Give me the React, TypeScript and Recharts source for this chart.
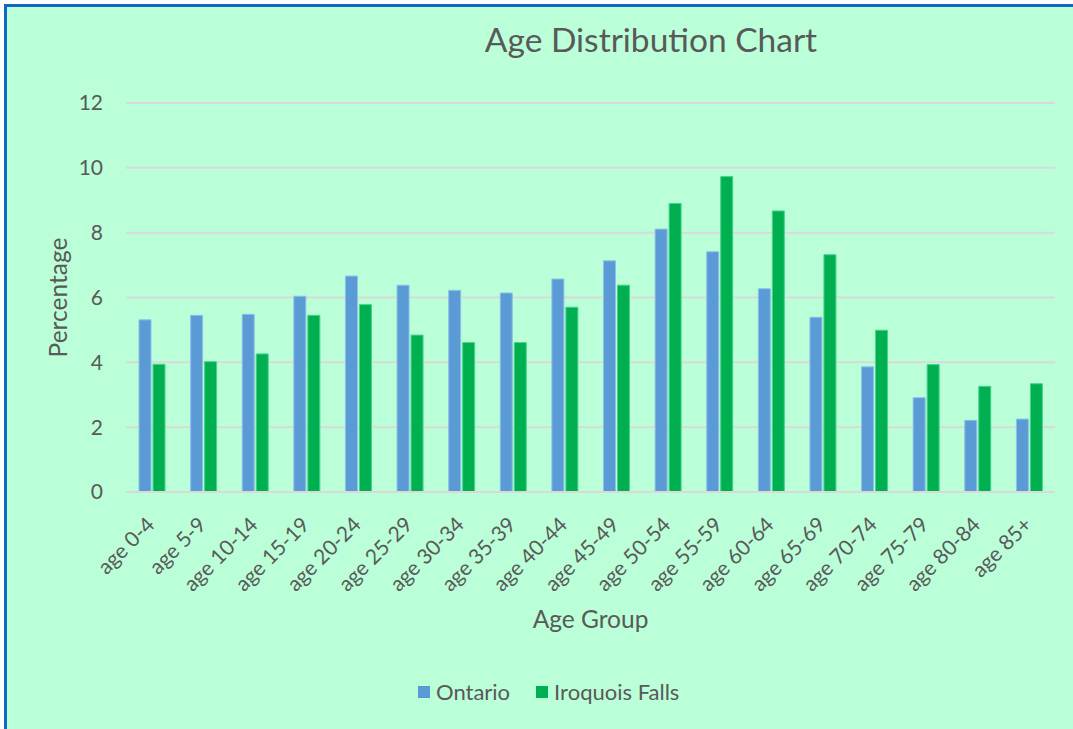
import React from 'react';
import { BarChart, Bar, XAxis, YAxis, CartesianGrid, Legend } from 'recharts';

const categories = ['age 0-4', 'age 5-9', 'age 10-14', 'age 15-19', 'age 20-24', 'age 25-29', 'age 30-34', 'age 35-39', 'age 40-44', 'age 45-49', 'age 50-54', 'age 55-59', 'age 60-64', 'age 65-69', 'age 70-74', 'age 75-79', 'age 80-84', 'age 85+'];
const ontario = [5.31, 5.45, 5.48, 6.04, 6.66, 6.38, 6.22, 6.14, 6.57, 7.13, 8.11, 7.41, 6.27, 5.39, 3.86, 2.91, 2.21, 2.25];
const iroquoisFalls = [3.94, 4.02, 4.26, 5.45, 5.78, 4.84, 4.61, 4.61, 5.70, 6.38, 8.90, 9.73, 8.67, 7.32, 4.99, 3.93, 3.26, 3.34];
const yTicks = [0, 2, 4, 6, 8, 10, 12];

const data = categories.map((c, i) => ({ name: c, ontario: ontario[i], iroquois: iroquoisFalls[i] }));

const FONT = 'Lato, "Open Sans", sans-serif';
const TEXT = '#595959';
const BLUE = '#5B9BD5';
const GREEN = '#00B050';
const GRID = '#D9D9D9';

const XTick = (props: any) => {
  const { x, y, payload } = props;
  const ax = x + 4;
  const ay = y + 34;
  return (
    <text x={ax} y={ay} transform={`rotate(-45, ${ax}, ${ay})`} textAnchor="end" fill={TEXT} fontSize={21} fontFamily={FONT}>
      {payload.value}
    </text>
  );
};

const LegendContent = () => (
  <div style={{ display: 'flex', alignItems: 'center', fontFamily: FONT, fontSize: 22, color: TEXT, lineHeight: '26px', whiteSpace: 'nowrap' }}>
    <span style={{ width: 12, height: 12, background: BLUE, display: 'inline-block', marginRight: 6 }} />
    <span>Ontario</span>
    <span style={{ width: 12, height: 12, background: GREEN, display: 'inline-block', marginLeft: 26, marginRight: 6 }} />
    <span>Iroquois Falls</span>
  </div>
);

export default function App() {
  return (
    <div style={{ position: 'fixed', left: 0, top: 0, width: 1073, height: 729, overflow: 'hidden', background: '#ffffff' }}>
      <div style={{ position: 'absolute', left: 4, top: 4, width: 1080, height: 740, border: '3px solid #1168C0', background: '#BAFFD8' }}>
        <svg width={1070} height={80} style={{ position: 'absolute', left: 0, top: 0 }}>
          <text x={644} y={45} textAnchor="middle" fill={TEXT} fontSize={33.5} fontFamily={FONT}>Age Distribution Chart</text>
        </svg>
        <div style={{ position: 'absolute', left: 0, top: 0 }}>
          <BarChart width={1070} height={730} data={data} margin={{ top: 96, right: 22, bottom: 95, left: 0 }} barSize={12} barGap={2}>
            <CartesianGrid vertical={false} stroke={GRID} strokeWidth={2} />
            <XAxis
              dataKey="name"
              height={150}
              interval={0}
              tickLine={false}
              tickSize={0}
              tickMargin={0}
              axisLine={{ stroke: GRID, strokeWidth: 2 }}
              tick={<XTick />}
              label={{
                content: (p: any) => {
                  const vb = p.viewBox;
                  return (
                    <text x={vb.x + vb.width / 2} y={vb.y + 136} textAnchor="middle" fill={TEXT} fontSize={24.5} fontFamily={FONT}>Age Group</text>
                  );
                },
              }}
            />
            <YAxis
              width={119}
              domain={[0, 12]}
              ticks={yTicks}
              axisLine={false}
              tickLine={false}
              tickSize={0}
              tickMargin={23}
              tick={{ fill: TEXT, fontSize: 21, fontFamily: FONT }}
              label={{
                content: (p: any) => {
                  const vb = p.viewBox;
                  const cx = vb.x + 50;
                  const cy = vb.y + vb.height / 2;
                  return (
                    <text x={cx} y={cy} transform={`rotate(-90, ${cx}, ${cy})`} textAnchor="middle" dominantBaseline="central" fill={TEXT} fontSize={24.5} fontFamily={FONT}>Percentage</text>
                  );
                },
              }}
            />
            <Legend layout="horizontal" verticalAlign="middle" align="center" wrapperStyle={{ top: 672, left: 411, width: 'auto' }} content={<LegendContent />} />
            <Bar dataKey="ontario" name="Ontario" fill={BLUE} stroke="#8CC0EC" strokeWidth={1} isAnimationActive={false} />
            <Bar dataKey="iroquois" name="Iroquois Falls" fill={GREEN} stroke="#45D48C" strokeWidth={1} isAnimationActive={false} />
          </BarChart>
        </div>
      </div>
    </div>
  );
}
